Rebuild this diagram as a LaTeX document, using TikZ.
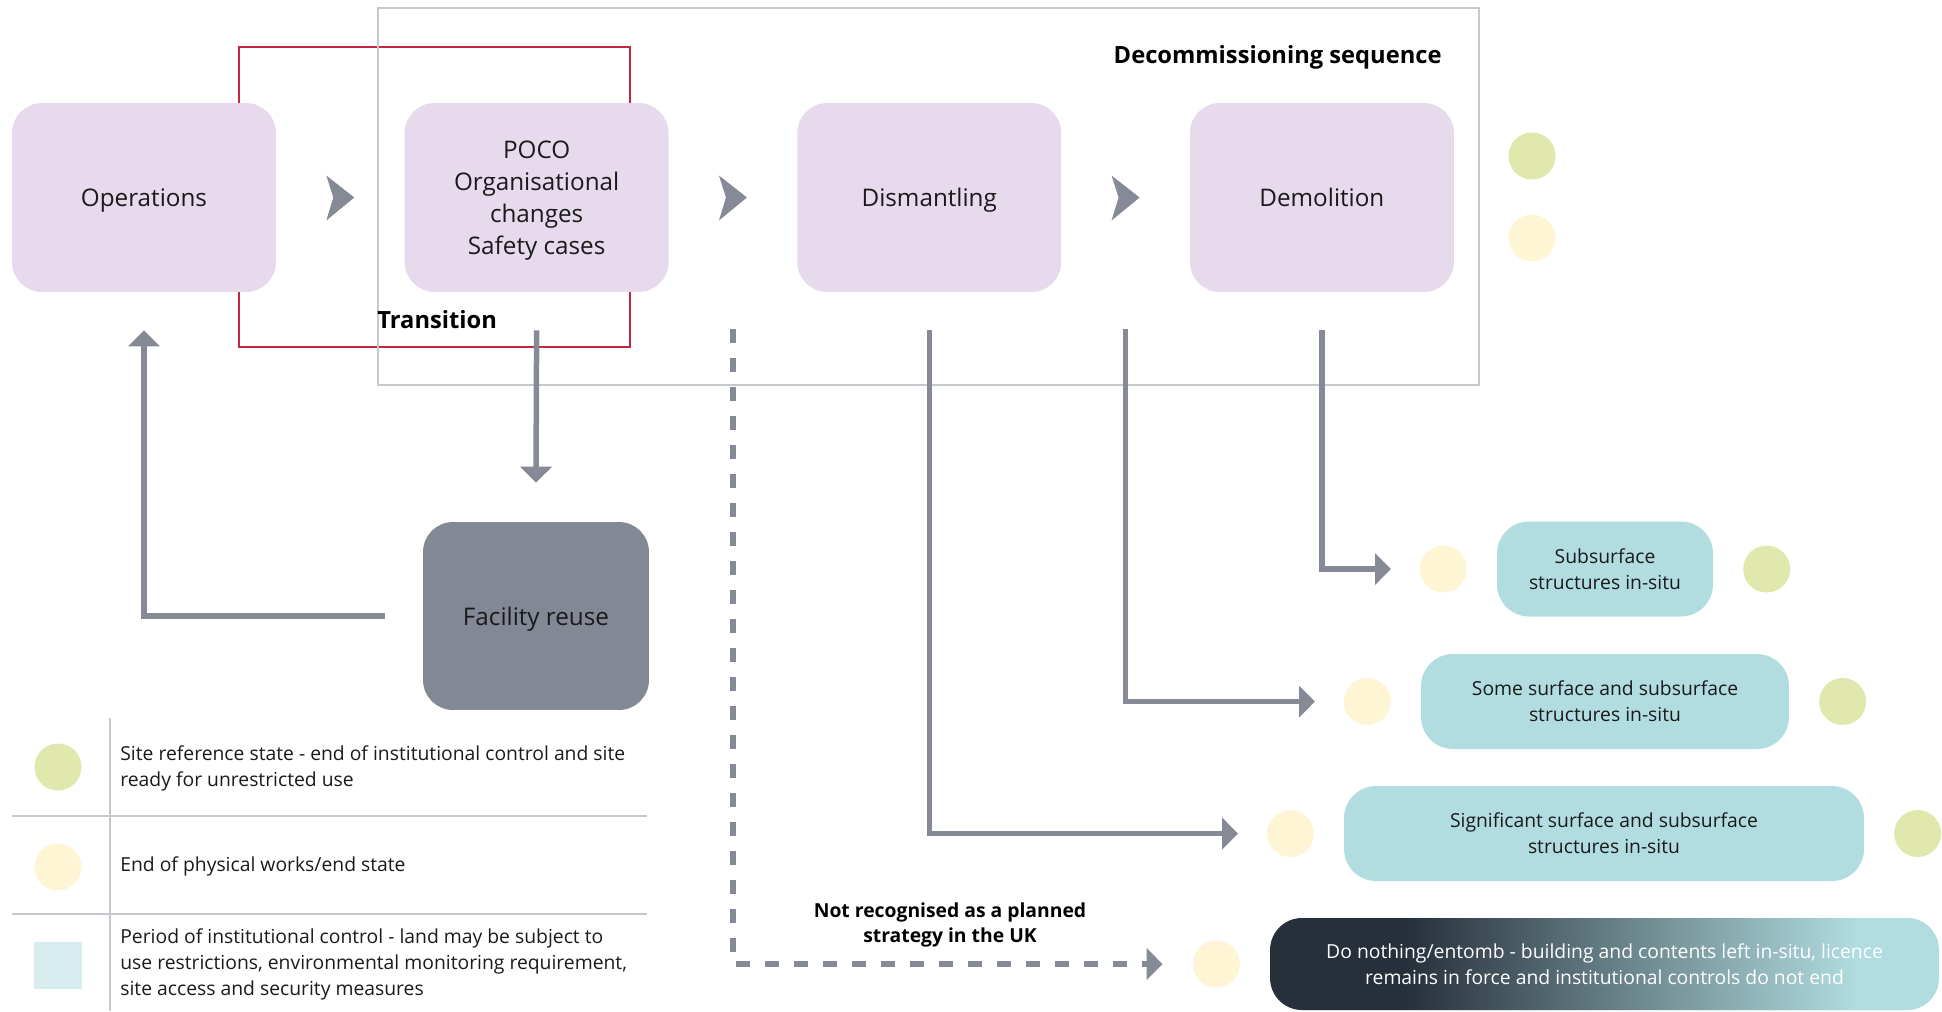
\documentclass[tikz,border=0pt]{standalone}
\usepackage{fontspec}
\setmainfont{Open Sans}
\usetikzlibrary{positioning,calc,arrows.meta}

\definecolor{lilac}{HTML}{E6DAEC}
\definecolor{aqua}{HTML}{B1DDE0}
\definecolor{steel}{HTML}{858A96}
\definecolor{slate}{HTML}{838895}
\definecolor{crimson}{HTML}{C1273F}
\definecolor{frame}{HTML}{C5C8CD}
\definecolor{lime}{HTML}{E0E8AE}
\definecolor{cream}{HTML}{FEF5D4}
\definecolor{pale}{HTML}{D8EDF0}
\definecolor{night}{HTML}{262F3A}
\definecolor{ink}{HTML}{1A1A1A}

\pgfdeclarehorizontalshading{entomb}{100bp}{color(0bp)=(night); color(35bp)=(night); color(69bp)=(aqua); color(100bp)=(aqua)}

\tikzset{
  stage/.style={fill=lilac, rounded corners=0.6cm, minimum width=5.28cm, minimum height=3.78cm, align=center, text depth=0pt, text=ink, font=\fontsize{13.8}{18.2}\selectfont},
  outcome/.style={fill=aqua, rounded corners=0.64cm, minimum height=1.9cm, align=center, text=ink, font=\fontsize{11}{14.8}\selectfont},
  flow/.style={draw=steel, line width=0.11cm, -{Triangle[length=0.32cm,width=0.62cm]}},
  enddot/.style={circle, fill=cream, minimum size=0.94cm, inner sep=0pt},
  refdot/.style={circle, fill=lime, minimum size=0.94cm, inner sep=0pt},
  heading/.style={inner sep=0pt, text=black, font=\bfseries\fontsize{13.5}{18}\selectfont},
  keytext/.style={anchor=west, align=left, inner sep=0pt, text=ink, font=\fontsize{11}{14.8}\selectfont},
  rule/.style={draw=frame, line width=0.04cm}
}

\begin{document}
\begin{tikzpicture}[x=0.02cm, y=-0.02cm]
\useasboundingbox (0,0) rectangle (1942,1011);

\draw[crimson, line width=0.04cm] (239,47) rectangle (630,347);
\draw[rule] (378,8) rectangle (1479,385);

\node[stage] (ops) at (144,197.5) {Operations};
\node[stage, right=2.56cm of ops] (poco) {POCO\\Organisational\\changes\\Safety cases};
\node[stage, right=2.56cm of poco] (dism) {Dismantling};
\node[stage, right=2.56cm of dism] (demo) {Demolition};
\node[stage, fill=slate, minimum width=4.52cm, minimum height=3.76cm] (reuse) at (536,616) {Facility reuse};

\coordinate (chevA) at ($(ops.east)!0.5!(poco.west)$);
\coordinate (chevB) at ($(poco.east)!0.5!(dism.west)$);
\coordinate (chevC) at ($(dism.east)!0.5!(demo.west)$);
\foreach \c in {chevA,chevB,chevC}
  \fill[steel] (\c) ++(-14,-22) -- ++(28,22) -- ++(-28,23) -- ++(7,-23) -- cycle;

\node[heading, anchor=east] (decomm) at (1442,57) {Decommissioning sequence};
\node[heading, anchor=west] (trans) at (377,320) {Transition};

\node[refdot] (topref) at (1532,156) {};
\node[enddot] (topend) at (1532,238) {};

\node[outcome, minimum width=4.32cm] (sub) at (1605,569) {Subsurface\\structures in-situ};
\node[outcome, minimum width=7.36cm] (some) at (1605,701.5) {Some surface and subsurface\\structures in-situ};
\node[outcome, minimum width=10.4cm] (sig) at (1604,833.5) {Significant surface and subsurface\\structures in-situ};
\node[outcome, shade, shading=entomb, text=white, minimum width=13.38cm, minimum height=1.84cm] (nothing) at (1604.5,964) {Do nothing/entomb - building and contents left in-situ, licence\\remains in force and institutional controls do not end};

\node[enddot, left=0.59cm of sub] (suby) {};
\node[refdot, right=0.59cm of sub] (subg) {};
\node[enddot, left=0.59cm of some] (somey) {};
\node[refdot, right=0.59cm of some] (someg) {};
\node[enddot, left=0.59cm of sig] (sigy) {};
\node[refdot, right=0.59cm of sig] (sigg) {};
\node[enddot, left=0.59cm of nothing] (nothingy) {};

\draw[flow] ([xshift=-0.76cm]reuse.west) -| ([yshift=-0.76cm]ops.south);
\draw[flow] ([yshift=-0.76cm]poco.south) -- ([yshift=0.78cm]reuse.north);
\draw[flow] ([yshift=-0.76cm]dism.south) |- ([xshift=-0.57cm]sigy.west);
\draw[flow] ([yshift=-2.64cm]chevC) |- ([xshift=-0.57cm]somey.west);
\draw[flow] ([yshift=-0.76cm]demo.south) |- ([xshift=-0.57cm]suby.west);
\coordinate (skip) at ([yshift=-2.64cm]chevB);
\draw[flow, dash pattern=on 0.28cm off 0.3cm] (skip) |- ([xshift=-0.6cm]nothingy.west);

\node[align=center, inner sep=0pt, text=black, font=\bfseries\fontsize{11}{14.2}\selectfont] (unplanned) at (950,924.5) {Not recognised as a planned\\strategy in the UK};

\draw[rule] (110,718) -- (110,1011);
\draw[rule] (12,816) -- (647,816);
\draw[rule] (12,914) -- (647,914);
\node[refdot] (keyref) at (58,767) {};
\node[enddot] (keyend) at (58,867) {};
\node[fill=pale, minimum width=0.96cm, minimum height=0.94cm, inner sep=0pt] (keyctrl) at (58,965.5) {};
\node[keytext] (keyreftext) at (120,768.5) {Site reference state - end of institutional control and site\\ready for unrestricted use};
\node[keytext] (keyendtext) at (120,866) {End of physical works/end state};
\node[keytext] (keyctrltext) at (120,964.5) {Period of institutional control - land may be subject to\\use restrictions, environmental monitoring requirement,\\site access and security measures};
\end{tikzpicture}
\end{document}
